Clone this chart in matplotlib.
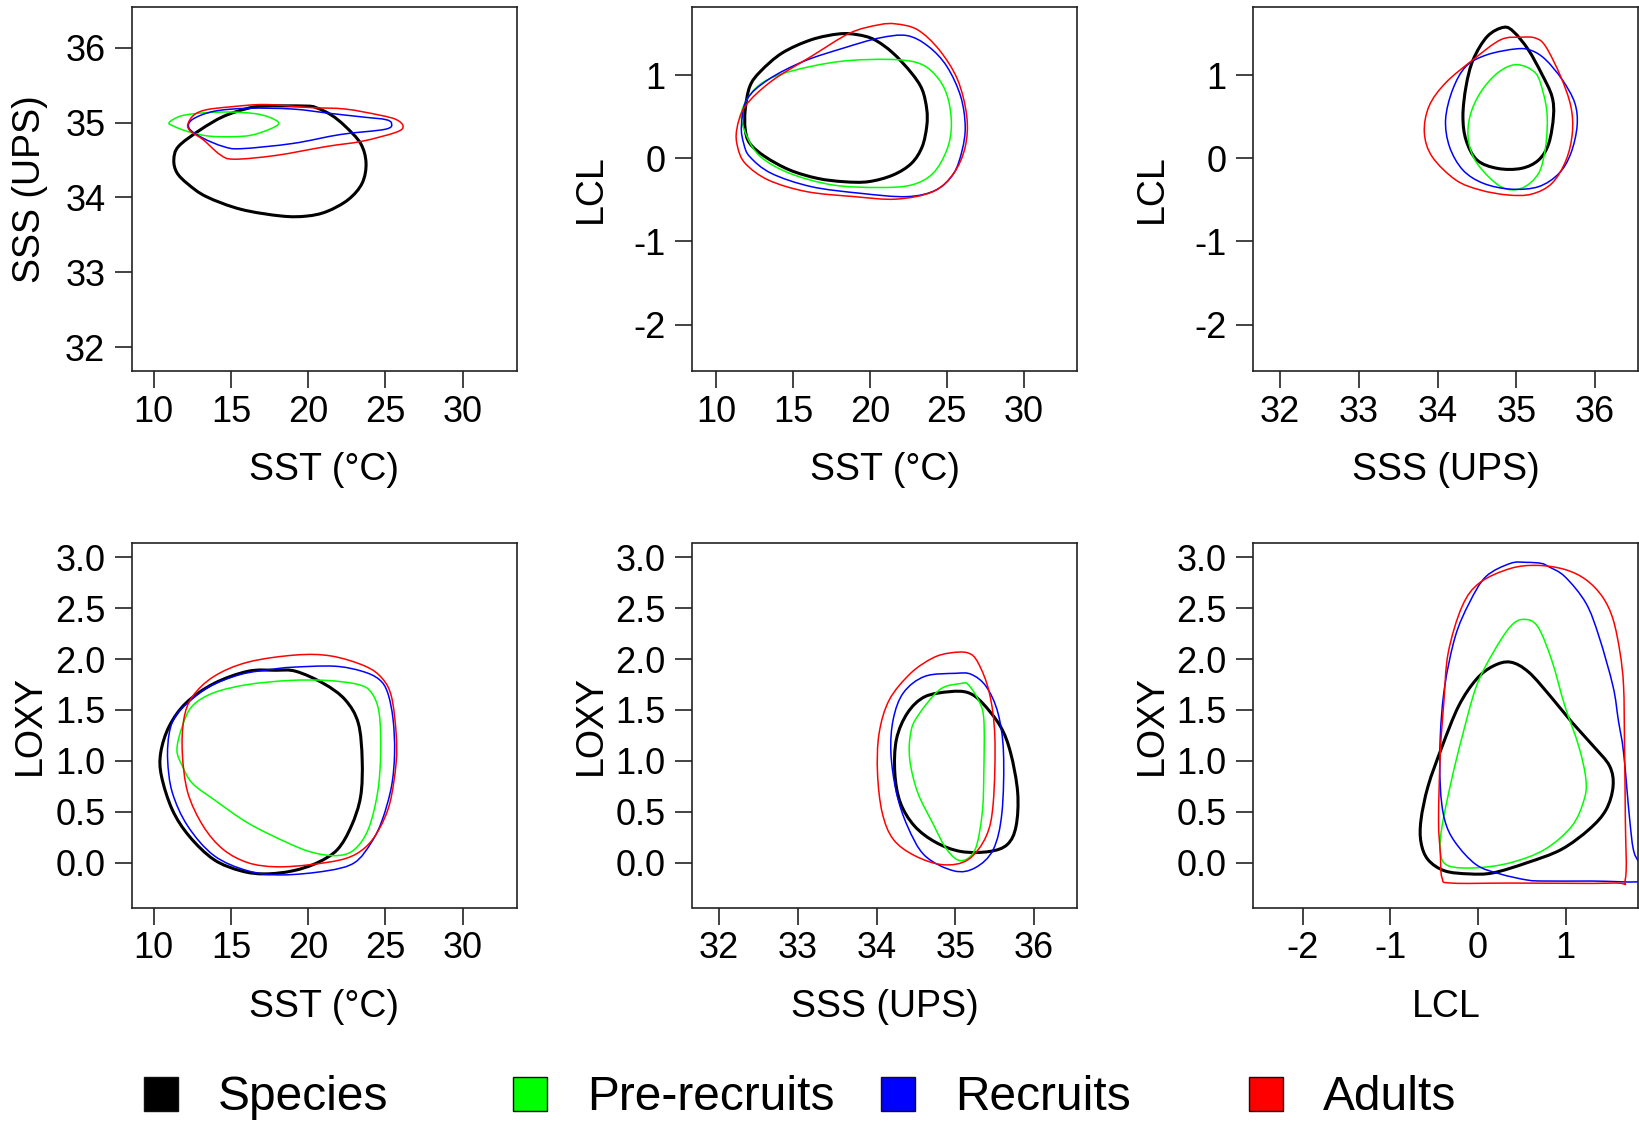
import matplotlib
matplotlib.use('Agg')
import matplotlib.pyplot as plt
from matplotlib.lines import Line2D
from matplotlib.path import Path
from matplotlib.patches import PathPatch

plt.rcParams['font.family'] = ['Liberation Sans', 'DejaVu Sans']

groups = ['Species', 'Pre-recruits', 'Recruits', 'Adults']
colors = ['black', '#00ff00', '#0000ff', '#ff0000']
widths = [2.2, 1.1, 1.1, 1.1]

# --- SST vs SSS ---
sst_sss_species = [(11.3, 34.50), (11.6, 34.68), (13.0, 34.90), (14.5, 35.08), (16.1, 35.19),
                   (17.2, 35.22), (19.8, 35.22), (20.5, 35.20), (21.5, 35.10), (22.4, 34.95),
                   (23.4, 34.72), (23.75, 34.46), (23.5, 34.19), (22.6, 33.97), (21.2, 33.81),
                   (19.9, 33.75), (18.3, 33.75), (15.65, 33.84), (13.4, 34.01), (12.2, 34.18),
                   (11.5, 34.33)]
sst_sss_pre = [(11.0, 35.0), (11.8, 35.09), (13.3, 35.13), (15.0, 35.14), (16.5, 35.12),
               (17.5, 35.07), (18.1, 34.99), (17.5, 34.91), (16.3, 34.83), (15.0, 34.81),
               (13.5, 34.82), (12.2, 34.88), (11.3, 34.95)]
sst_sss_rec = [(12.3, 34.92), (12.5, 35.04), (13.9, 35.15), (16.1, 35.19), (19.0, 35.18),
               (21.5, 35.12), (23.7, 35.07), (25.0, 35.04), (25.4, 34.99), (25.0, 34.91),
               (22.1, 34.84), (19.0, 34.72), (15.65, 34.65), (14.5, 34.68), (13.2, 34.79)]
sst_sss_adu = [(12.2, 34.97), (12.6, 35.10), (13.4, 35.17), (15.0, 35.21), (17.2, 35.24),
               (20.1, 35.20), (22.4, 35.18), (24.6, 35.10), (25.7, 35.04), (26.15, 34.95),
               (25.7, 34.87), (23.5, 34.75), (21.2, 34.68), (17.9, 34.56), (15.2, 34.51),
               (14.3, 34.57), (13.2, 34.77), (12.4, 34.88)]

# --- SST vs LCL ---
sst_lcl_species = [(18.0, 1.50), (16.2, 1.43), (14.3, 1.27), (12.9, 1.05), (12.2, 0.87),
                   (11.9, 0.59), (11.9, 0.35), (12.2, 0.18), (13.2, 0.02), (14.8, -0.14),
                   (16.6, -0.24), (18.3, -0.28), (19.9, -0.28), (21.5, -0.20), (22.7, -0.06),
                   (23.4, 0.14), (23.7, 0.39), (23.7, 0.59), (23.4, 0.83), (22.7, 1.03),
                   (21.5, 1.27), (20.3, 1.43), (19.2, 1.49)]
sst_lcl_pre = [(11.65, 0.55), (12.5, 0.83), (13.85, 0.99), (16.2, 1.11), (18.7, 1.18),
               (21.7, 1.19), (23.4, 1.13), (24.5, 0.95), (25.1, 0.71), (25.3, 0.39),
               (25.0, 0.10), (24.1, -0.18), (22.7, -0.32), (20.6, -0.35), (17.6, -0.32),
               (14.8, -0.18), (12.9, 0.02), (12.0, 0.27)]
sst_lcl_rec = [(11.65, 0.39), (12.0, 0.71), (13.4, 0.95), (15.7, 1.17), (18.3, 1.33),
               (20.6, 1.45), (22.4, 1.48), (23.8, 1.35), (25.0, 1.11), (25.9, 0.75),
               (26.2, 0.39), (26.0, 0.10), (25.45, -0.18), (24.3, -0.38), (22.4, -0.46),
               (19.4, -0.42), (16.2, -0.34), (13.6, -0.18), (12.2, 0.02), (11.8, 0.18)]
sst_lcl_adu = [(11.35, 0.35), (11.9, 0.63), (13.6, 0.93), (16.2, 1.23), (18.7, 1.51),
               (20.6, 1.61), (21.7, 1.62), (23.1, 1.55), (24.5, 1.31), (25.7, 0.95),
               (26.3, 0.51), (26.2, 0.14), (25.45, -0.18), (24.1, -0.40), (21.7, -0.49),
               (19.0, -0.46), (15.9, -0.40), (13.4, -0.26), (11.9, -0.06), (11.4, 0.14)]

# --- SSS vs LCL ---
sss_lcl_species = [(34.84, 1.58), (34.63, 1.47), (34.45, 1.19), (34.36, 0.87), (34.32, 0.51),
                   (34.36, 0.22), (34.50, -0.02), (34.76, -0.12), (35.06, -0.12), (35.28, -0.02),
                   (35.41, 0.18), (35.47, 0.51), (35.45, 0.75), (35.32, 1.02), (35.15, 1.31),
                   (34.97, 1.52)]
sss_lcl_pre = [(35.0, 1.13), (34.76, 1.03), (34.54, 0.79), (34.41, 0.51), (34.39, 0.22),
               (34.50, -0.06), (34.80, -0.34), (35.06, -0.36), (35.28, -0.18), (35.37, 0.14),
               (35.39, 0.51), (35.34, 0.79), (35.24, 1.03)]
sss_lcl_rec = [(35.0, 1.32), (34.63, 1.25), (34.36, 1.11), (34.19, 0.83), (34.10, 0.47),
               (34.15, 0.14), (34.32, -0.14), (34.58, -0.30), (34.93, -0.37), (35.28, -0.34),
               (35.54, -0.18), (35.69, 0.06), (35.77, 0.39), (35.74, 0.67), (35.58, 0.95),
               (35.37, 1.19), (35.19, 1.30)]
sss_lcl_adu = [(35.06, 1.46), (34.80, 1.43), (34.45, 1.19), (34.10, 0.91), (33.89, 0.63),
               (33.83, 0.31), (33.93, 0.02), (34.23, -0.26), (34.54, -0.38), (34.89, -0.44),
               (35.19, -0.43), (35.45, -0.30), (35.63, -0.02), (35.71, 0.31), (35.69, 0.63),
               (35.56, 0.99), (35.37, 1.35), (35.24, 1.45)]

# --- SST vs LOXY ---
sst_loxy_species = [(17.9, 1.89), (16.1, 1.88), (13.9, 1.76), (12.1, 1.57), (11.0, 1.34),
                    (10.45, 1.08), (10.5, 0.85), (11.2, 0.52), (12.3, 0.26), (13.9, 0.03),
                    (15.65, -0.08), (17.2, -0.11), (19.0, -0.08), (20.6, 0.0), (21.9, 0.13),
                    (22.8, 0.36), (23.4, 0.65), (23.5, 1.01), (23.25, 1.37), (22.4, 1.60),
                    (21.0, 1.76), (19.2, 1.88)]
sst_loxy_pre = [(11.5, 1.11), (11.85, 1.34), (12.5, 1.54), (13.9, 1.67), (16.1, 1.75),
                (18.8, 1.79), (21.2, 1.79), (23.25, 1.75), (24.1, 1.67), (24.6, 1.47),
                (24.7, 1.08), (24.5, 0.69), (23.9, 0.33), (23.0, 0.13), (21.9, 0.07),
                (20.3, 0.10), (18.6, 0.20), (16.1, 0.39), (13.9, 0.62), (12.5, 0.78),
                (11.85, 0.95)]
sst_loxy_rec = [(12.2, 1.57), (13.6, 1.73), (15.65, 1.85), (17.7, 1.90), (19.0, 1.92),
                (21.7, 1.93), (23.5, 1.88), (24.6, 1.80), (25.15, 1.67), (25.5, 1.41),
                (25.6, 1.08), (25.4, 0.75), (24.8, 0.42), (24.1, 0.20), (23.0, 0.0),
                (21.2, -0.08), (18.3, -0.12), (16.1, -0.08), (13.9, 0.07), (12.2, 0.36),
                (11.2, 0.69), (10.9, 1.01), (11.0, 1.27), (11.4, 1.44)]
sst_loxy_adu = [(12.5, 1.63), (13.9, 1.83), (16.1, 1.97), (19.2, 2.04), (21.5, 2.03),
                (23.7, 1.93), (24.8, 1.81), (25.4, 1.63), (25.7, 1.27), (25.7, 0.98),
                (25.3, 0.59), (24.6, 0.33), (23.7, 0.15), (22.4, 0.04), (20.1, -0.02),
                (17.9, -0.04), (16.1, 0.0), (14.5, 0.13), (13.2, 0.36), (12.2, 0.69),
                (11.85, 1.08), (11.95, 1.41)]

# --- SSS vs LOXY ---
sss_loxy_species = [(34.93, 1.68), (34.61, 1.63), (34.39, 1.47), (34.25, 1.21), (34.23, 0.88),
                    (34.30, 0.59), (34.48, 0.36), (34.75, 0.20), (35.07, 0.11), (35.43, 0.11),
                    (35.66, 0.18), (35.77, 0.36), (35.79, 0.69), (35.70, 1.08), (35.57, 1.34),
                    (35.34, 1.57), (35.16, 1.67)]
sss_loxy_pre = [(35.07, 1.76), (34.80, 1.70), (34.52, 1.44), (34.43, 1.27), (34.42, 1.01),
                (34.52, 0.69), (34.71, 0.39), (34.89, 0.13), (35.07, 0.02), (35.25, 0.13),
                (35.34, 0.49), (35.36, 0.88), (35.36, 1.41), (35.29, 1.60), (35.16, 1.75)]
sss_loxy_rec = [(35.0, 1.86), (34.61, 1.83), (34.34, 1.67), (34.21, 1.41), (34.18, 1.08),
                (34.25, 0.69), (34.39, 0.36), (34.61, 0.07), (34.98, -0.08), (35.25, -0.05),
                (35.48, 0.13), (35.59, 0.49), (35.61, 1.08), (35.54, 1.47), (35.39, 1.73),
                (35.20, 1.85)]
sss_loxy_adu = [(34.93, 2.06), (35.16, 2.06), (35.29, 1.96), (35.43, 1.67), (35.50, 1.24),
                (35.48, 0.59), (35.39, 0.26), (35.16, 0.03), (34.84, -0.02), (34.48, 0.07),
                (34.21, 0.23), (34.07, 0.49), (34.01, 0.88), (34.03, 1.27), (34.16, 1.60),
                (34.43, 1.86), (34.71, 2.01)]

# --- LCL vs LOXY ---
lcl_loxy_species = [(0.37, 1.97), (0.17, 1.93), (-0.02, 1.80), (-0.22, 1.54), (-0.41, 1.14),
                    (-0.57, 0.75), (-0.65, 0.42), (-0.65, 0.20), (-0.57, 0.03), (-0.38, -0.08),
                    (-0.10, -0.11), (0.17, -0.10), (0.56, 0.0), (0.95, 0.13), (1.27, 0.33),
                    (1.46, 0.52), (1.54, 0.75), (1.50, 0.95), (1.31, 1.15), (1.07, 1.38),
                    (0.84, 1.62), (0.58, 1.87)]
lcl_loxy_pre = [(0.52, 2.39), (0.37, 2.32), (0.17, 2.06), (-0.02, 1.73), (-0.18, 1.24),
                (-0.30, 0.82), (-0.41, 0.36), (-0.43, 0.10), (-0.34, -0.03), (-0.02, -0.05),
                (0.37, 0.0), (0.76, 0.13), (1.07, 0.36), (1.21, 0.62), (1.23, 0.82),
                (1.15, 1.14), (0.99, 1.54), (0.84, 1.99), (0.68, 2.32)]
lcl_loxy_rec = [(0.72, 2.94), (0.55, 2.95), (0.37, 2.94), (0.09, 2.81), (-0.10, 2.55),
                (-0.26, 2.22), (-0.38, 1.73), (-0.43, 1.24), (-0.43, 0.75), (-0.38, 0.42),
                (-0.26, 0.20), (-0.02, -0.02), (0.25, -0.11), (0.56, -0.17), (0.76, -0.18),
                (1.30, -0.18), (1.90, -0.18), (1.88, -0.05), (1.78, 0.10), (1.73, 0.42),
                (1.66, 1.08), (1.60, 1.40), (1.54, 1.73), (1.38, 2.22), (1.23, 2.55),
                (0.99, 2.81), (0.80, 2.91)]
lcl_loxy_adu = [(0.68, 2.92), (0.37, 2.89), (0.02, 2.75), (-0.18, 2.52), (-0.34, 2.06),
                (-0.39, 1.57), (-0.43, 1.08), (-0.45, 0.42), (-0.43, 0.10), (-0.41, -0.15),
                (-0.30, -0.20), (0.37, -0.20), (1.54, -0.20), (1.68, -0.16), (1.68, 0.42),
                (1.67, 1.20), (1.66, 1.73), (1.62, 2.06), (1.54, 2.39), (1.42, 2.61),
                (1.23, 2.78), (0.99, 2.88)]

sst_ticks = [10, 15, 20, 25, 30]
sss_ticks = [32, 33, 34, 35, 36]
lcl_ticks = [-2, -1, 0, 1]
loxy_ticks = [0.0, 0.5, 1.0, 1.5, 2.0, 2.5, 3.0]

sst_label = 'SST (°C)'
sss_label = 'SSS (UPS)'
lcl_label = 'LCL'
loxy_label = 'LOXY'

panels = [
    ([sst_sss_species, sst_sss_pre, sst_sss_rec, sst_sss_adu],
     sst_label, sss_label, (8.59, 33.53), (31.68, 36.55), sst_ticks, sss_ticks, '{:g}'),
    ([sst_lcl_species, sst_lcl_pre, sst_lcl_rec, sst_lcl_adu],
     sst_label, lcl_label, (8.47, 33.50), (-2.56, 1.83), sst_ticks, lcl_ticks, '{:g}'),
    ([sss_lcl_species, sss_lcl_pre, sss_lcl_rec, sss_lcl_adu],
     sss_label, lcl_label, (31.66, 36.55), (-2.56, 1.83), sss_ticks, lcl_ticks, '{:g}'),
    ([sst_loxy_species, sst_loxy_pre, sst_loxy_rec, sst_loxy_adu],
     sst_label, loxy_label, (8.59, 33.53), (-0.44, 3.14), sst_ticks, loxy_ticks, '{:.1f}'),
    ([sss_loxy_species, sss_loxy_pre, sss_loxy_rec, sss_loxy_adu],
     sss_label, loxy_label, (31.66, 36.55), (-0.44, 3.14), sss_ticks, loxy_ticks, '{:.1f}'),
    ([lcl_loxy_species, lcl_loxy_pre, lcl_loxy_rec, lcl_loxy_adu],
     lcl_label, loxy_label, (-2.56, 1.83), (-0.44, 3.14), lcl_ticks, loxy_ticks, '{:.1f}'),
]


def closed_curve(pts):
    # closed Catmull-Rom curve through the points, drawn as cubic Bezier segments
    n = len(pts)
    verts = [pts[0]]
    codes = [Path.MOVETO]
    for i in range(n):
        p0, p1 = pts[i - 1], pts[i]
        p2, p3 = pts[(i + 1) % n], pts[(i + 2) % n]
        c1 = (p1[0] + (p2[0] - p0[0]) / 6, p1[1] + (p2[1] - p0[1]) / 6)
        c2 = (p2[0] - (p3[0] - p1[0]) / 6, p2[1] - (p3[1] - p1[1]) / 6)
        verts += [c1, c2, p2]
        codes += [Path.CURVE4] * 3
    return Path(verts, codes)


W, H = 1640, 1121
fig = plt.figure(figsize=(W / 100, H / 100), dpi=100)

lefts = [132, 692.5, 1253.5]
bottoms = [371, 907.5]
aw, ah = 385, 364.5

for i, (curves, xl, yl, xlim, ylim, xt, yt, yfmt) in enumerate(panels):
    row, col = divmod(i, 3)
    ax = fig.add_axes([lefts[col] / W, 1 - bottoms[row] / H, aw / W, ah / H])
    for pts, c, lw in zip(curves, colors, widths):
        ax.add_patch(PathPatch(closed_curve(pts), fill=False, edgecolor=c, lw=lw))
    ax.set_xlim(*xlim)
    ax.set_ylim(*ylim)
    ax.set_xticks(xt)
    ax.set_xticklabels(['{:g}'.format(v) for v in xt])
    ax.set_yticks(yt)
    ax.set_yticklabels([yfmt.format(v) for v in yt])
    ax.tick_params(axis='both', direction='out', length=12.2, width=1.2,
                   labelsize=26, color='#222222')
    ax.tick_params(axis='x', pad=5)
    ax.tick_params(axis='y', pad=7)
    for s in ax.spines.values():
        s.set_linewidth(1.2)
        s.set_color('#222222')
    ax.set_xlabel(xl, fontsize=27)
    ax.set_ylabel(yl, fontsize=27)
    ax.xaxis.set_label_coords(0.5, -0.272)
    ax.xaxis.label.set_va('center')
    ax.yaxis.set_label_coords(-0.265, 0.5)
    ax.yaxis.label.set_va('center')

# legend, one entry per slot so the slots are evenly spaced
slot_x = [138, 507, 875, 1243]
for name, c, x in zip(groups, colors, slot_x):
    h = Line2D([], [], ls='none', marker='s', markersize=24, markerfacecolor=c,
               markeredgecolor='#111111', markeredgewidth=1.0)
    fig.legend([h], [name], loc='center left', bbox_to_anchor=(x / W, 1 - 1098 / H),
               frameon=False, fontsize=34.5, handlelength=0.95, handletextpad=0.72,
               borderpad=0, borderaxespad=0)

fig.savefig('out.png', dpi=100)
